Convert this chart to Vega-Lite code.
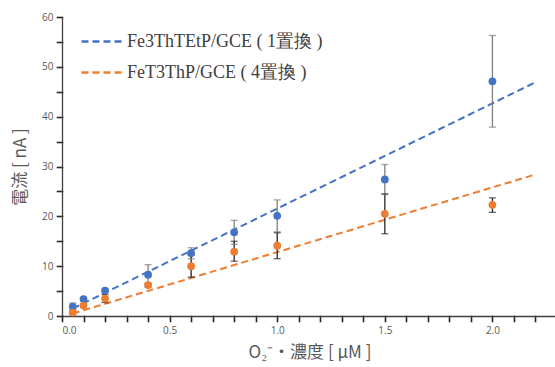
{
  "$schema": "https://vega.github.io/schema/vega-lite/v6.json",
  "width": 495,
  "height": 299,
  "autosize": {"type": "none"},
  "padding": {"left": 62, "top": 17, "right": 0, "bottom": 51},
  "background": "white",
  "config": {
    "view": {"stroke": null},
    "axis": {
      "grid": false,
      "ticks": true,
      "tickSize": 5,
      "tickOpacity": 1,
      "tickCap": "square",
      "domainColor": "#404040",
      "domainWidth": 1.3,
      "tickColor": "#262626",
      "tickWidth": 1.6,
      "labelFont": "Open Sans",
      "labelFontSize": 10,
      "labelColor": "#595959",
      "labelOverlap": false,
      "labelPadding": 4,
      "titleFont": "Noto Sans CJK JP",
      "titleFontSize": 17,
      "titleFontWeight": "normal",
      "titleColor": "#595959"
    },
    "axisX": {"titlePadding": 9},
    "axisY": {"titlePadding": 12},
    "legend": {
      "labelFont": "Liberation Serif",
      "labelFontSize": 18,
      "labelColor": "#404040"
    }
  },
  "datasets": {
    "pts": [
      {"x": 0.05, "series": "Fe3ThTEtP/GCE ( 1置換 )", "y": 1.9, "lo": 1.3, "hi": 2.6},
      {"x": 0.1, "series": "Fe3ThTEtP/GCE ( 1置換 )", "y": 3.4, "lo": 3.1, "hi": 3.7},
      {"x": 0.2, "series": "Fe3ThTEtP/GCE ( 1置換 )", "y": 5.1, "lo": 4.8, "hi": 5.4},
      {"x": 0.4, "series": "Fe3ThTEtP/GCE ( 1置換 )", "y": 8.3, "lo": 6.3, "hi": 10.3},
      {"x": 0.6, "series": "Fe3ThTEtP/GCE ( 1置換 )", "y": 12.6, "lo": 11.5, "hi": 13.7},
      {"x": 0.8, "series": "Fe3ThTEtP/GCE ( 1置換 )", "y": 16.8, "lo": 14.4, "hi": 19.2},
      {"x": 1.0, "series": "Fe3ThTEtP/GCE ( 1置換 )", "y": 20.1, "lo": 16.9, "hi": 23.3},
      {"x": 1.5, "series": "Fe3ThTEtP/GCE ( 1置換 )", "y": 27.4, "lo": 24.4, "hi": 30.4},
      {"x": 2.0, "series": "Fe3ThTEtP/GCE ( 1置換 )", "y": 47.1, "lo": 37.9, "hi": 56.3},
      {"x": 0.05, "series": "FeT3ThP/GCE ( 4置換 )", "y": 0.7, "lo": 0.4, "hi": 1.0},
      {"x": 0.1, "series": "FeT3ThP/GCE ( 4置換 )", "y": 2.1, "lo": 1.8, "hi": 2.4},
      {"x": 0.2, "series": "FeT3ThP/GCE ( 4置換 )", "y": 3.5, "lo": 2.7, "hi": 4.3},
      {"x": 0.4, "series": "FeT3ThP/GCE ( 4置換 )", "y": 6.2, "lo": 5.8, "hi": 6.6},
      {"x": 0.6, "series": "FeT3ThP/GCE ( 4置換 )", "y": 10.0, "lo": 7.8, "hi": 12.2},
      {"x": 0.8, "series": "FeT3ThP/GCE ( 4置換 )", "y": 12.9, "lo": 11.0, "hi": 15.0},
      {"x": 1.0, "series": "FeT3ThP/GCE ( 4置換 )", "y": 14.1, "lo": 11.5, "hi": 16.7},
      {"x": 1.5, "series": "FeT3ThP/GCE ( 4置換 )", "y": 20.5, "lo": 16.5, "hi": 24.5},
      {"x": 2.0, "series": "FeT3ThP/GCE ( 4置換 )", "y": 22.3, "lo": 20.8, "hi": 23.7}
    ],
    "fit": [
      {"x": 0.05, "series": "Fe3ThTEtP/GCE ( 1置換 )", "y": 1.5},
      {"x": 2.2, "series": "Fe3ThTEtP/GCE ( 1置換 )", "y": 46.9},
      {"x": 0.05, "series": "FeT3ThP/GCE ( 4置換 )", "y": 0.5},
      {"x": 2.2, "series": "FeT3ThP/GCE ( 4置換 )", "y": 28.4}
    ]
  },
  "layer": [
    {
      "data": {"name": "fit"},
      "mark": {"type": "line", "strokeDash": [7, 4], "strokeWidth": 2},
      "encoding": {
        "x": {
          "field": "x", "type": "quantitative",
          "scale": {"domain": [0, 2.3], "nice": false},
          "title": "O₂⁻・濃度 [ μM ]",
          "axis": {
            "values": [0, 0.1, 0.2, 0.3, 0.4, 0.5, 0.6, 0.7, 0.8, 0.9, 1.0, 1.1, 1.2, 1.3, 1.4, 1.5, 1.6, 1.7, 1.8, 1.9, 2.0, 2.1, 2.2],
            "labelExpr": "abs(datum.value*2 - round(datum.value*2)) < 0.001 ? format(datum.value, '.1f') : ''"
          }
        },
        "y": {
          "field": "y", "type": "quantitative",
          "scale": {"domain": [0, 60], "nice": false},
          "title": "電流 [ nA ]",
          "axis": {
            "values": [0, 5, 10, 15, 20, 25, 30, 35, 40, 45, 50, 55, 60],
            "labelExpr": "datum.value % 10 == 0 ? datum.value : ''"
          }
        },
        "color": {
          "field": "series", "type": "nominal",
          "scale": {"domain": ["Fe3ThTEtP/GCE ( 1置換 )", "FeT3ThP/GCE ( 4置換 )"], "range": ["#4472C4", "#ED7D31"]},
          "legend": {
            "title": null,
            "orient": "none",
            "legendX": 18,
            "legendY": 3,
            "symbolType": "stroke",
            "symbolDash": [7, 4],
            "symbolStrokeWidth": 2.5,
            "symbolSize": 1600,
            "labelLimit": 400,
            "rowPadding": -19
          }
        }
      }
    },
    {
      "data": {"name": "pts"},
      "mark": {"type": "rule", "strokeWidth": 1.3},
      "encoding": {
        "x": {"field": "x", "type": "quantitative", "title": "O₂⁻・濃度 [ μM ]",
          "axis": {
            "values": [0, 0.1, 0.2, 0.3, 0.4, 0.5, 0.6, 0.7, 0.8, 0.9, 1.0, 1.1, 1.2, 1.3, 1.4, 1.5, 1.6, 1.7, 1.8, 1.9, 2.0, 2.1, 2.2],
            "labelExpr": "abs(datum.value*2 - round(datum.value*2)) < 0.001 ? format(datum.value, '.1f') : ''"
          }},
        "y": {"field": "lo", "type": "quantitative", "title": "電流 [ nA ]",
          "axis": {
            "values": [0, 5, 10, 15, 20, 25, 30, 35, 40, 45, 50, 55, 60],
            "labelExpr": "datum.value % 10 == 0 ? datum.value : ''"
          }},
        "y2": {"field": "hi"},
        "color": {"condition": {"test": "datum.series === 'Fe3ThTEtP/GCE ( 1置換 )'", "value": "#7F7F7F"}, "value": "#262626"}
      }
    },
    {
      "data": {"name": "pts"},
      "mark": {"type": "tick", "orient": "horizontal", "size": 7, "thickness": 1.3},
      "encoding": {
        "x": {"field": "x", "type": "quantitative", "title": "O₂⁻・濃度 [ μM ]",
          "axis": {
            "values": [0, 0.1, 0.2, 0.3, 0.4, 0.5, 0.6, 0.7, 0.8, 0.9, 1.0, 1.1, 1.2, 1.3, 1.4, 1.5, 1.6, 1.7, 1.8, 1.9, 2.0, 2.1, 2.2],
            "labelExpr": "abs(datum.value*2 - round(datum.value*2)) < 0.001 ? format(datum.value, '.1f') : ''"
          }},
        "y": {"field": "lo", "type": "quantitative", "title": "電流 [ nA ]",
          "axis": {
            "values": [0, 5, 10, 15, 20, 25, 30, 35, 40, 45, 50, 55, 60],
            "labelExpr": "datum.value % 10 == 0 ? datum.value : ''"
          }},
        "color": {"condition": {"test": "datum.series === 'Fe3ThTEtP/GCE ( 1置換 )'", "value": "#7F7F7F"}, "value": "#262626"}
      }
    },
    {
      "data": {"name": "pts"},
      "mark": {"type": "tick", "orient": "horizontal", "size": 7, "thickness": 1.3},
      "encoding": {
        "x": {"field": "x", "type": "quantitative", "title": "O₂⁻・濃度 [ μM ]",
          "axis": {
            "values": [0, 0.1, 0.2, 0.3, 0.4, 0.5, 0.6, 0.7, 0.8, 0.9, 1.0, 1.1, 1.2, 1.3, 1.4, 1.5, 1.6, 1.7, 1.8, 1.9, 2.0, 2.1, 2.2],
            "labelExpr": "abs(datum.value*2 - round(datum.value*2)) < 0.001 ? format(datum.value, '.1f') : ''"
          }},
        "y": {"field": "hi", "type": "quantitative", "title": "電流 [ nA ]",
          "axis": {
            "values": [0, 5, 10, 15, 20, 25, 30, 35, 40, 45, 50, 55, 60],
            "labelExpr": "datum.value % 10 == 0 ? datum.value : ''"
          }},
        "color": {"condition": {"test": "datum.series === 'Fe3ThTEtP/GCE ( 1置換 )'", "value": "#7F7F7F"}, "value": "#262626"}
      }
    },
    {
      "data": {"name": "pts"},
      "mark": {"type": "circle", "size": 60, "opacity": 1},
      "encoding": {
        "x": {"field": "x", "type": "quantitative", "title": "O₂⁻・濃度 [ μM ]",
          "axis": {
            "values": [0, 0.1, 0.2, 0.3, 0.4, 0.5, 0.6, 0.7, 0.8, 0.9, 1.0, 1.1, 1.2, 1.3, 1.4, 1.5, 1.6, 1.7, 1.8, 1.9, 2.0, 2.1, 2.2],
            "labelExpr": "abs(datum.value*2 - round(datum.value*2)) < 0.001 ? format(datum.value, '.1f') : ''"
          }},
        "y": {"field": "y", "type": "quantitative", "title": "電流 [ nA ]",
          "axis": {
            "values": [0, 5, 10, 15, 20, 25, 30, 35, 40, 45, 50, 55, 60],
            "labelExpr": "datum.value % 10 == 0 ? datum.value : ''"
          }},
        "color": {"condition": {"test": "datum.series === 'Fe3ThTEtP/GCE ( 1置換 )'", "value": "#4472C4"}, "value": "#ED7D31"}
      }
    }
  ]
}
